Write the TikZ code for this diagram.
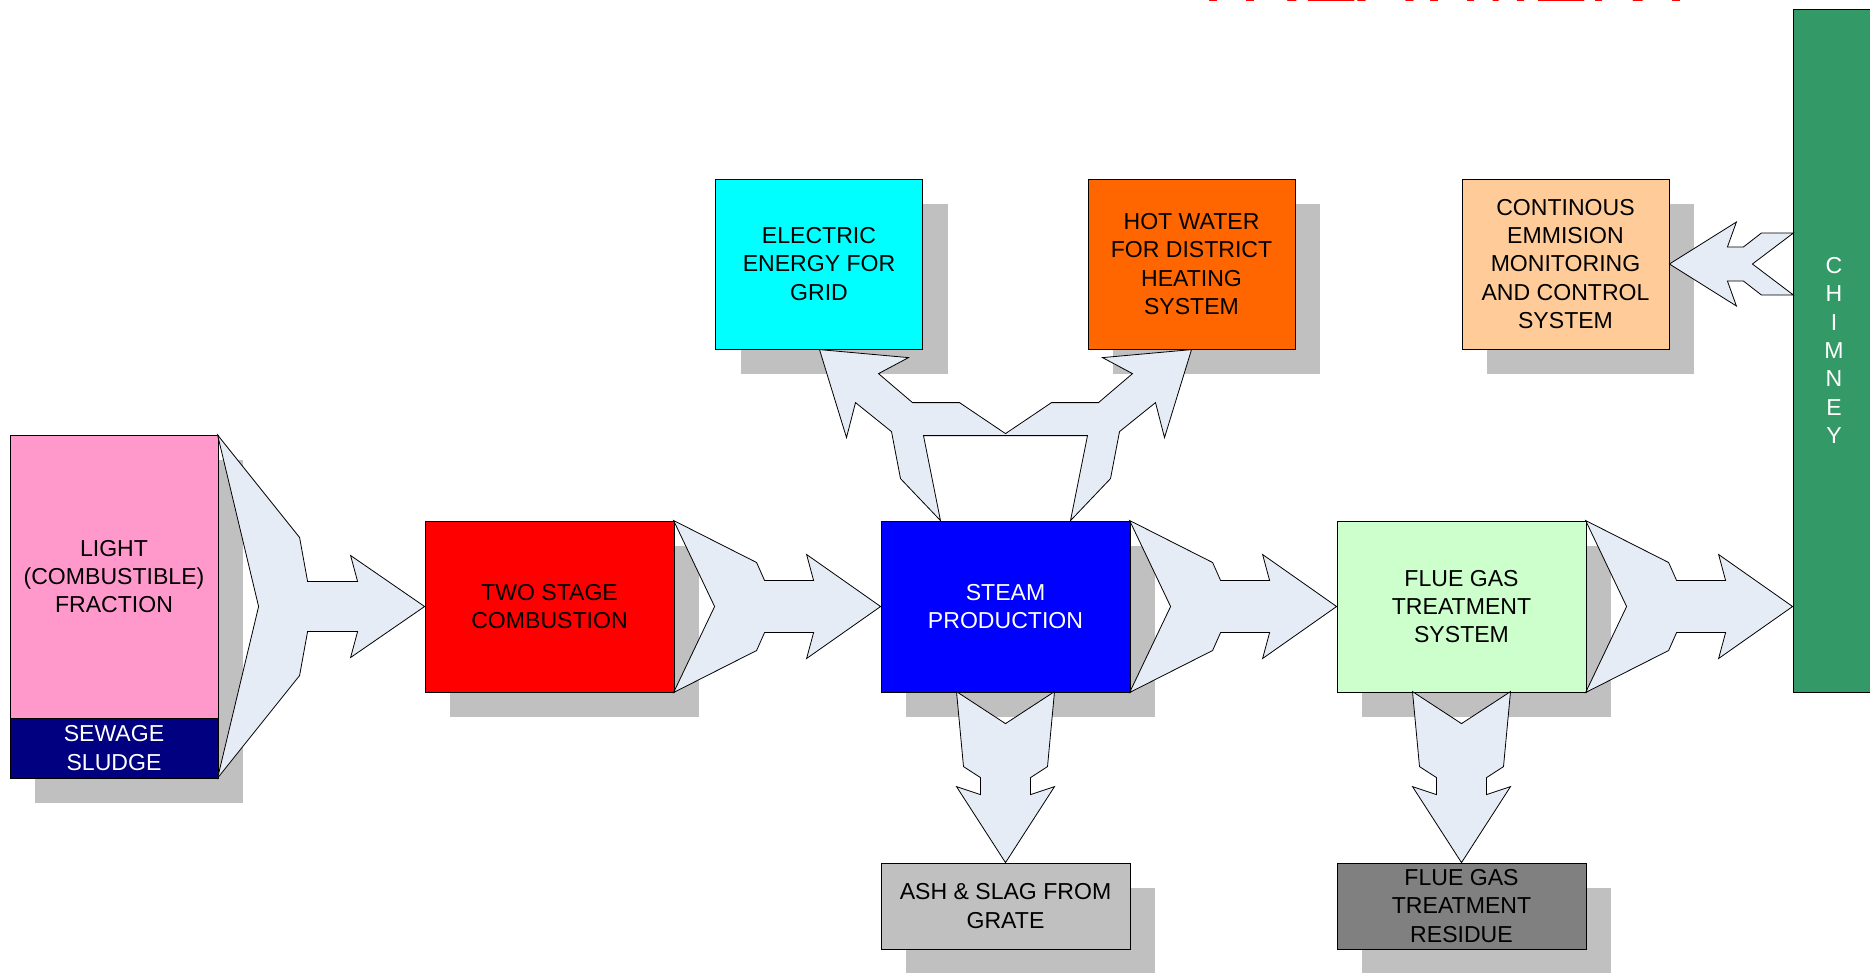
\documentclass[tikz,border=0pt]{standalone}
\usepackage{fontspec}
\setmainfont{Liberation Sans}
\usetikzlibrary{shadows}
\definecolor{pinkc}{HTML}{FF99CC}
\definecolor{navyc}{HTML}{000080}
\definecolor{redc}{HTML}{FF0000}
\definecolor{bluec}{HTML}{0000FF}
\definecolor{lgreenc}{HTML}{CCFFCC}
\definecolor{chimc}{HTML}{339966}
\definecolor{cyanc}{HTML}{00FFFF}
\definecolor{orangec}{HTML}{FF6600}
\definecolor{peachc}{HTML}{FFCC99}
\definecolor{lgrayc}{HTML}{C0C0C0}
\definecolor{dgrayc}{HTML}{808080}
\definecolor{shadowc}{HTML}{C0C0C0}
\definecolor{arrowc}{HTML}{E6ECF6}
\newcommand{\boxfont}{\fontsize{17.3}{21.3}\selectfont}
\begin{document}
\begin{tikzpicture}[x=0.75pt,y=-0.75pt,
  box/.style={draw=black,line width=0.6pt,inner sep=0pt,align=center,font=\boxfont,
    drop shadow={shadow xshift=18.75pt,shadow yshift=-18.75pt,fill=shadowc,opacity=1}},
  flat/.style={draw=black,line width=0.6pt,inner sep=0pt,align=center,font=\boxfont},
  mainbox/.style={box,minimum width=186.75pt,minimum height=128.25pt},
  topbox/.style={box,minimum width=155.25pt,minimum height=127.5pt},
  botbox/.style={box,minimum width=186.75pt,minimum height=64.5pt},
  blockarrow/.style={fill=arrowc,draw=black,line width=0.6pt,line join=miter}]
\useasboundingbox (0,0) rectangle (1870,972);
\fill[white] (0,0) rectangle (1870,972);

% title fragment (cut off at the top)
\node[anchor=base west,inner sep=0pt,text=redc,font=\fontsize{64}{64}\selectfont] (title) at (1187,1.7) {TREATMENT};

% boxes
\node[box,fill=pinkc,minimum width=156pt,minimum height=212.25pt] (light) at (114,576.5) {LIGHT\\(COMBUSTIBLE)\\FRACTION};
\node[box,fill=navyc,text=white,minimum width=156pt,minimum height=45pt] (sludge) at (114,748) {SEWAGE\\SLUDGE};
\node[mainbox,fill=redc] (comb) at (549.5,606.5) {TWO STAGE\\COMBUSTION};
\node[mainbox,fill=bluec,text=white] (steam) at (1005.5,606.5) {STEAM\\PRODUCTION};
\node[mainbox,fill=lgreenc] (flue) at (1461.5,606.5) {FLUE GAS\\TREATMENT\\SYSTEM};
\node[flat,fill=chimc,text=white,minimum width=61.5pt,minimum height=512.25pt] (chim) at (1834,350.5) {C\\H\\I\\M\\N\\E\\Y};
\node[topbox,fill=cyanc] (elec) at (819,264) {ELECTRIC\\ENERGY FOR\\GRID};
\node[topbox,fill=orangec] (hot) at (1191.5,264) {HOT WATER\\FOR DISTRICT\\HEATING\\SYSTEM};
\node[topbox,fill=peachc] (cems) at (1565.5,264) {CONTINOUS\\EMMISION\\MONITORING\\AND CONTROL\\SYSTEM};
\node[botbox,fill=lgrayc] (ash) at (1005.5,906) {ASH \& SLAG FROM\\GRATE};
\node[botbox,fill=dgrayc] (resid) at (1461.5,906) {FLUE GAS\\TREATMENT\\RESIDUE};

% light fraction -> combustion
\begin{scope}[shift={(comb.west)}]
\draw[blockarrow] (-207,-171.5) -- (-125,-69) -- (-117,-25) -- (-67,-25) -- (-74,-51) -- (0,0)
  -- (-74,51) -- (-67,25) -- (-117,25) -- (-125,69) -- (-207,171.5) -- (-166,0) -- cycle;
\end{scope}
% combustion -> steam, steam -> flue, flue -> chimney
\foreach \tgt in {steam.west, flue.west, chim.west |- flue.east}{
\begin{scope}[shift={(\tgt)}]
\draw[blockarrow] (-207,-86) -- (-124,-44) -- (-116,-26) -- (-67,-26) -- (-74,-52) -- (0,0)
  -- (-74,52) -- (-67,26) -- (-116,26) -- (-124,44) -- (-207,86) -- (-166,0) -- cycle;
\end{scope}}
% steam -> ash, flue -> residue
\foreach \tgt in {ash.north, resid.north}{
\begin{scope}[shift={(\tgt)}]
\draw[blockarrow] (-49,-171) -- (0,-139) -- (49,-171) -- (42,-96) -- (25,-85) -- (25,-68)
  -- (49,-76) -- (0,0) -- (-49,-76) -- (-25,-68) -- (-25,-85) -- (-42,-96) -- cycle;
\end{scope}}
% chimney -> monitoring
\begin{scope}[shift={(cems.east)}]
\draw[blockarrow] (0,0) -- (67,-42) -- (58,-17) -- (74,-17) -- (92,-31) -- (124,-31) -- (83,0)
  -- (124,31) -- (92,31) -- (74,17) -- (58,17) -- (67,42) -- cycle;
\end{scope}
% steam -> electric energy and hot water
\begin{scope}[shift={(steam.north)}]
\draw[blockarrow] (-65,0) -- (-105,-42) -- (-114,-89) -- (-150,-118) -- (-159,-83) -- (-186,-171)
  -- (-97,-163) -- (-127,-147) -- (-93,-118) -- (-46,-118) -- (0,-87) -- (46,-118) -- (93,-118)
  -- (127,-147) -- (97,-163) -- (186,-171) -- (159,-83) -- (150,-118) -- (114,-89) -- (105,-42)
  -- (65,0) -- (82,-85) -- (-82,-85) -- cycle;
\end{scope}
\end{tikzpicture}
\end{document}
